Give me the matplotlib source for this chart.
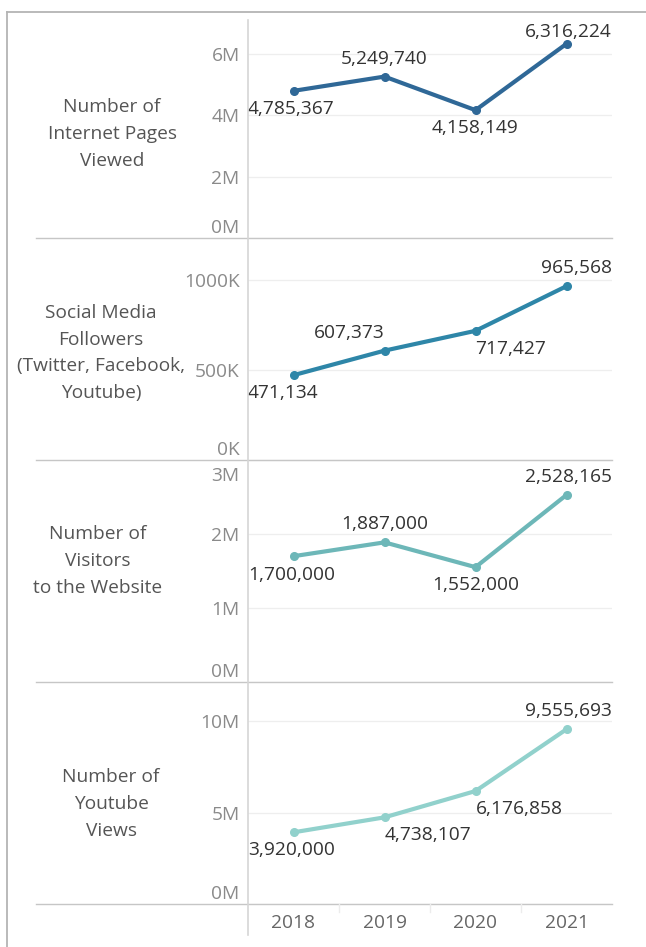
import matplotlib.pyplot as plt
from matplotlib.lines import Line2D
from matplotlib.transforms import ScaledTranslation

years = ['2018', '2019', '2020', '2021']

pages_viewed = [4785367, 5249740, 4158149, 6316224]
social_followers = [471134, 607373, 717427, 965568]
website_visitors = [1700000, 1887000, 1552000, 2528165]
youtube_views = [3920000, 4738107, 6176858, 9555693]

row_titles = ['Number of\nInternet Pages\nViewed',
              'Social Media\nFollowers\n(Twitter, Facebook,\nYoutube)',
              'Number of\nVisitors\nto the Website',
              'Number of\nYoutube\nViews']

tick_values = [[0, 2e6, 4e6, 6e6], [0, 5e5, 1e6], [0, 1e6, 2e6, 3e6], [0, 5e6, 1e7]]
tick_labels = [['0M', '2M', '4M', '6M'], ['0K', '500K', '1000K'],
               ['0M', '1M', '2M', '3M'], ['0M', '5M', '10M']]

series = [pages_viewed, social_followers, website_visitors, youtube_views]

# layout in pixels of the 646x947 canvas
W, H = 646, 947
x_left, x_right = 248, 612
panes = [(20, 238), (238, 460), (460, 682), (682, 904)]
y_tops = [7.09e6, 1.233e6, 3.0e6, 12.14e6]
colors = ['#2f6897', '#2e86a8', '#6db7b8', '#91d1cc']
title_xy = [(112, 134), (101, 353), (98, 561), (111, 804)]

# label offset (px, positive = below the point) and horizontal anchoring
label_dy = [[18, -18, 18, -12], [18, -18, 18, -18], [19, -18, 18, -18], [18, 18, 18, -18]]
label_ha = [['first', 'center', 'center', 'last'],
            ['first', 'right', 'left', 'last'],
            ['first', 'center', 'center', 'last'],
            ['first', 'left', 'left', 'last']]

FONT = 'Open Sans'
FS = 13.8
plt.rcParams['font.family'] = [FONT, 'DejaVu Sans']

fig = plt.figure(figsize=(W / 100, H / 100), dpi=100)


def fx(px):
    return px / W


def fy(py):
    return 1 - py / H


xs = list(range(len(years)))

for i, (vals, (top, bot)) in enumerate(zip(series, panes)):
    ax = fig.add_axes([fx(x_left), fy(bot), fx(x_right - x_left), (bot - top) / H])
    ax.set_xlim(-0.5, 3.5)
    ax.set_ylim(0, y_tops[i])
    for s in ax.spines.values():
        s.set_visible(False)

    ax.set_yticks(tick_values[i])
    ax.set_yticklabels(tick_labels[i], fontsize=FS, color='#8a8a8a')
    ax.tick_params(axis='y', length=0, pad=6)
    ax.grid(axis='y', color='#eeeeee', lw=0.9)
    ax.set_axisbelow(True)

    # keep end labels inside the pane
    labels = ax.get_yticklabels()
    labels[0].set_transform(labels[0].get_transform() + ScaledTranslation(0, 0.12, fig.dpi_scale_trans))
    if tick_values[i][-1] >= y_tops[i]:
        labels[-1].set_transform(labels[-1].get_transform() + ScaledTranslation(0, -0.14, fig.dpi_scale_trans))

    if i == len(series) - 1:
        ax.set_xticks(xs)
        ax.set_xticklabels(years, fontsize=FS, color='#666666')
        ax.tick_params(axis='x', length=0, pad=7)
    else:
        ax.set_xticks([])

    ax.plot(xs, vals, color=colors[i], lw=3, marker='o', ms=5.5,
            solid_capstyle='round', zorder=3, clip_on=False)

    for j, v in enumerate(vals):
        mode = label_ha[i][j]
        if mode == 'first':
            xy, ha = (-0.5, v), 'left'
        elif mode == 'last':
            xy, ha = (3.5, v), 'right'
        else:
            xy, ha = (j, v), mode
        ax.annotate(f'{v:,}', xy=xy, xytext=(0, -label_dy[i][j]),
                    textcoords='offset pixels', ha=ha, va='center',
                    fontsize=FS, color='#333333', annotation_clip=False)

    tx, ty = title_xy[i]
    fig.text(fx(tx), fy(ty), row_titles[i], ha='center', va='center',
             fontsize=FS, color='#555555', linespacing=1.62)

# pane separators
for _, bot in panes:
    fig.add_artist(Line2D([fx(36), fx(x_right)], [fy(bot), fy(bot)],
                          transform=fig.transFigure, color='#c6c6c6', lw=1))

# column dividers in the year header
for xd in [339, 430, 521]:
    fig.add_artist(Line2D([fx(xd), fx(xd)], [fy(904), fy(912)],
                          transform=fig.transFigure, color='#ececec', lw=1))

# value axis rule
fig.add_artist(Line2D([fx(x_left), fx(x_left)], [fy(20), fy(935)],
                      transform=fig.transFigure, color='#d6d6d6', lw=1.2))

# outer frame
fig.add_artist(Line2D([fx(7), 1], [fy(12), fy(12)], transform=fig.transFigure,
                      color='#b4b4b4', lw=1.3))
fig.add_artist(Line2D([fx(7), fx(7)], [fy(12), 0], transform=fig.transFigure,
                      color='#b4b4b4', lw=1.3))

fig.savefig('out.png', dpi=100)
